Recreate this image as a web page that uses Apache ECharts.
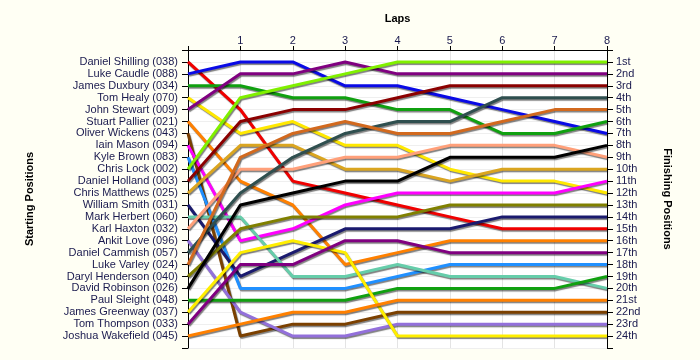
<!DOCTYPE html>
<html><head><meta charset="utf-8">
<script src="https://cdn.jsdelivr.net/npm/echarts@6/dist/echarts.min.js"></script>
<style>html,body{margin:0;padding:0;background:#FFFFF4}#c{width:700px;height:360px}</style>
</head><body><div id="c"></div><script>
const laps = [0, 1, 2, 3, 4, 5, 6, 7, 8];
const startNames = [
  'Daniel Shilling (038)', 'Luke Caudle (088)', 'James Duxbury (034)', 'Tom Healy (070)',
  'John Stewart (009)', 'Stuart Pallier (021)', 'Oliver Wickens (043)', 'Iain Mason (094)',
  'Kyle Brown (083)', 'Chris Lock (002)', 'Daniel Holland (003)', 'Chris Matthews (025)',
  'William Smith (031)', 'Mark Herbert (060)', 'Karl Haxton (032)', 'Ankit Love (096)',
  'Daniel Cammish (057)', 'Luke Varley (024)', 'Daryl Henderson (040)', 'David Robinson (026)',
  'Paul Sleight (048)', 'James Greenway (037)', 'Tom Thompson (033)', 'Joshua Wakefield (045)'
];
const finishLabels = ['1st','2nd','3rd','4th','5th','6th','7th','8th','9th','10th','11th','12th',
  '13th','14th','15th','16th','17th','18th','19th','20th','21st','22nd','23rd','24th'];
// position of each driver (in starting order) at laps 0..8
const positions = [
  [1, 5, 11, 12, 13, 14, 15, 15, 15],
  [2, 1, 1, 3, 3, 4, 5, 6, 7],
  [3, 3, 4, 4, 5, 5, 7, 7, 6],
  [4, 7, 6, 8, 8, 10, 11, 11, 12],
  [5, 2, 2, 1, 2, 2, 2, 2, 2],
  [6, 11, 13, 18, 17, 16, 16, 16, 16],
  [7, 24, 23, 23, 22, 22, 22, 22, 22],
  [8, 16, 15, 13, 12, 12, 12, 12, 11],
  [9, 20, 20, 20, 19, 18, 18, 18, 18],
  [10, 4, 3, 2, 1, 1, 1, 1, 1],
  [11, 6, 5, 5, 4, 3, 3, 3, 3],
  [12, 8, 8, 10, 10, 11, 10, 10, 10],
  [13, 19, 17, 15, 15, 15, 14, 14, 14],
  [14, 14, 19, 19, 18, 19, 19, 19, 20],
  [15, 10, 10, 9, 9, 8, 8, 8, 9],
  [16, 22, 24, 24, 23, 23, 23, 23, 23],
  [17, 12, 9, 7, 6, 6, 4, 4, 4],
  [18, 9, 7, 6, 7, 7, 6, 5, 5],
  [19, 15, 14, 14, 14, 13, 13, 13, 13],
  [20, 13, 12, 11, 11, 9, 9, 9, 8],
  [21, 21, 21, 21, 20, 20, 20, 20, 19],
  [22, 17, 16, 17, 24, 24, 24, 24, 24],
  [23, 18, 18, 16, 16, 17, 17, 17, 17],
  [24, 23, 22, 22, 21, 21, 21, 21, 21]
];
const lineColors = [
  '#F00000', '#0A0AE6', '#10A010', '#FFE800', '#800080', '#FF8000', '#7B4000', '#FF00FF',
  '#2090FF', '#80F000', '#8B0000', '#DAA520', '#1A1A6E', '#66CDAA', '#FFA07A', '#9370DB',
  '#2F4F4F', '#D2691E', '#808000', '#000000', '#10A010', '#FFEE00', '#800080', '#FF8000'
];

const txt = '#1A1A4E';
const font = 'Liberation Sans';
const series = startNames.map((n, i) => ({
  name: n, type: 'line', symbol: 'none', silent: true,
  data: laps.map((l, j) => [l, positions[i][j]]),
  lineStyle: { color: lineColors[i], width: 3, shadowColor: 'rgba(0,0,0,0.5)', shadowOffsetX: 1, shadowOffsetY: 1.5, shadowBlur: 1 },
  itemStyle: { color: lineColors[i] }
}));

const chart = echarts.init(document.getElementById('c'), null, { renderer: 'canvas' });
chart.setOption({
  animation: false,
  backgroundColor: '#FFFFF4',
  grid: { left: 188, right: 93, top: 50, bottom: 12, show: true, backgroundColor: '#FFFFFF', borderWidth: 0 },
  xAxis: {
    type: 'value', min: 0, max: 8, interval: 1, position: 'top',
    name: 'Laps', nameLocation: 'middle', nameGap: 26,
    nameTextStyle: { fontFamily: font, fontSize: 11, fontWeight: 'bold', color: '#000' },
    axisLine: { show: true, lineStyle: { color: '#000', width: 1 } },
    axisTick: { show: true, length: 4, lineStyle: { color: '#000' } },
    axisLabel: { formatter: v => v === 0 ? '' : String(v), margin: 4, fontFamily: font, fontSize: 11, color: txt },
    splitLine: { show: true, lineStyle: { color: '#E4E4E4', width: 1 } }
  },
  yAxis: [
    {
      type: 'value', min: 0, max: 25, interval: 1, inverse: true, position: 'left',
      name: 'Starting Positions', nameLocation: 'middle', nameGap: 153,
      nameTextStyle: { fontFamily: font, fontSize: 11, fontWeight: 'bold', color: '#000' },
      axisLine: { show: true, lineStyle: { color: '#000', width: 1 } },
      axisTick: { show: true, length: 6, lineStyle: { color: '#000' } },
      axisLabel: { formatter: v => startNames[v - 1] || '', margin: 10, fontFamily: font, fontSize: 11, color: txt },
      splitLine: { show: true, lineStyle: { color: '#EFEFEF', width: 1 } }
    },
    {
      type: 'value', min: 0, max: 25, interval: 1, inverse: true, position: 'right',
      name: 'Finishing Positions', nameLocation: 'middle', nameGap: 55, nameRotate: -90,
      nameTextStyle: { fontFamily: font, fontSize: 11, fontWeight: 'bold', color: '#000' },
      axisLine: { show: true, lineStyle: { color: '#000', width: 1 } },
      axisTick: { show: true, length: 6, lineStyle: { color: '#000' } },
      axisLabel: { formatter: v => finishLabels[v - 1] || '', margin: 9, fontFamily: font, fontSize: 11, color: txt },
      splitLine: { show: false }
    }
  ],
  series: series
});
</script></body></html>
